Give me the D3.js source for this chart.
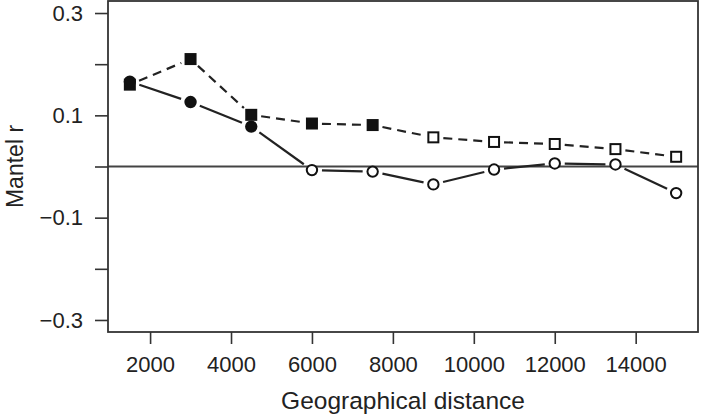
<!DOCTYPE html>
<html>
<head>
<meta charset="utf-8">
<script src="https://cdn.jsdelivr.net/npm/d3@7"></script>
<style>
  body { margin: 0; background: #fff; }
  text { font-family: "Liberation Sans", Arial, sans-serif; fill: #222; }
</style>
</head>
<body>
<div id="chart"></div>
<script>
var distances = [1500, 3000, 4500, 6000, 7500, 9000, 10500, 12000, 13500, 15000];
var circleR  = [0.166, 0.126, 0.078, -0.007, -0.010, -0.035, -0.006, 0.006, 0.004, -0.052];
var circleFilled = [true, true, true, false, false, false, false, false, false, false];
var squareR  = [0.160, 0.210, 0.101, 0.084, 0.081, 0.057, 0.048, 0.044, 0.034, 0.019];
var squareFilled = [true, true, true, true, true, false, false, false, false, false];
var xTicks = [2000, 4000, 6000, 8000, 10000, 12000, 14000];
var yTicks = [0.3, 0.2, 0.1, 0, -0.1, -0.2, -0.3];
var yLabels = [0.3, 0.1, -0.1, -0.3];

var graphD = {
  width: 702,
  height: 416,
  left: 108,
  right: 698,
  top: 1,
  bottom: 332
};

var svg = d3.select("#chart")
            .append("svg")
            .attr("width", graphD.width)
            .attr("height", graphD.height);

var xScale = d3.scaleLinear()
               .domain([960, 15540])
               .range([graphD.left, graphD.right]);

var yScale = d3.scaleLinear()
               .domain([-0.3235, 0.3235])
               .range([graphD.bottom, graphD.top]);

var xAxis = d3.axisBottom(xScale).tickValues(xTicks).tickSize(12).tickPadding(12)
              .tickFormat(d3.format("d"));
var yAxis = d3.axisLeft(yScale).tickValues(yTicks).tickSize(13).tickPadding(12)
              .tickFormat(function(d){ return yLabels.indexOf(d) >= 0 ? d3.format(".1f")(d).replace("-", "\u2212") : ""; });

var gx = svg.append("g")
   .attr("transform", "translate(0," + graphD.bottom + ")")
   .call(xAxis);
var gy = svg.append("g")
   .attr("transform", "translate(" + graphD.left + ",0)")
   .call(yAxis);

[gx, gy].forEach(function(g){
  g.select(".domain").remove();
  g.selectAll(".tick line").attr("stroke", "#333").attr("stroke-width", 1.6);
  g.selectAll(".tick text").style("font-size", "22px").attr("fill", "#222");
});

// zero reference line
svg.append("line")
   .attr("x1", graphD.left).attr("x2", graphD.right)
   .attr("y1", yScale(0)).attr("y2", yScale(0))
   .attr("stroke", "#444").attr("stroke-width", 1.8);

// plot box
svg.append("rect")
   .attr("x", graphD.left).attr("y", graphD.top)
   .attr("width", graphD.right - graphD.left)
   .attr("height", graphD.bottom - graphD.top)
   .attr("fill", "none").attr("stroke", "#333").attr("stroke-width", 1.8);

// lines drawn with gaps around points (like R type = "b")
function gappedSegments(values, gap){
  var segs = [];
  for (var i = 0; i < values.length - 1; i++) {
    var x1 = xScale(distances[i]), y1 = yScale(values[i]);
    var x2 = xScale(distances[i+1]), y2 = yScale(values[i+1]);
    var len = Math.sqrt((x2-x1)*(x2-x1) + (y2-y1)*(y2-y1));
    var ux = (x2-x1)/len, uy = (y2-y1)/len;
    segs.push([x1 + ux*gap, y1 + uy*gap, x2 - ux*gap, y2 - uy*gap]);
  }
  return segs;
}

svg.append("g").selectAll("line")
   .data(gappedSegments(squareR, 10))
   .enter().append("line")
   .attr("x1", function(d){ return d[0]; }).attr("y1", function(d){ return d[1]; })
   .attr("x2", function(d){ return d[2]; }).attr("y2", function(d){ return d[3]; })
   .attr("stroke", "#222").attr("stroke-width", 2.2)
   .attr("stroke-dasharray", "9,6");

svg.append("g").selectAll("line")
   .data(gappedSegments(circleR, 10))
   .enter().append("line")
   .attr("x1", function(d){ return d[0]; }).attr("y1", function(d){ return d[1]; })
   .attr("x2", function(d){ return d[2]; }).attr("y2", function(d){ return d[3]; })
   .attr("stroke", "#222").attr("stroke-width", 2.2);

svg.append("g").selectAll("rect")
   .data(squareR)
   .enter().append("rect")
   .attr("x", function(d,i){ return xScale(distances[i]) - 5; })
   .attr("y", function(d){ return yScale(d) - 5; })
   .attr("width", 10).attr("height", 10)
   .attr("fill", function(d,i){ return squareFilled[i] ? "#111" : "#fff"; })
   .attr("stroke", "#111").attr("stroke-width", 2);

svg.append("g").selectAll("circle")
   .data(circleR)
   .enter().append("circle")
   .attr("cx", function(d,i){ return xScale(distances[i]); })
   .attr("cy", function(d){ return yScale(d); })
   .attr("r", 5.2)
   .attr("fill", function(d,i){ return circleFilled[i] ? "#111" : "#fff"; })
   .attr("stroke", "#111").attr("stroke-width", 2);

svg.append("text")
   .attr("x", (graphD.left + graphD.right) / 2)
   .attr("y", 409)
   .attr("text-anchor", "middle")
   .style("font-size", "24.5px")
   .text("Geographical distance");

svg.append("text")
   .attr("transform", "translate(23," + ((graphD.top + graphD.bottom) / 2) + ") rotate(-90)")
   .attr("text-anchor", "middle")
   .style("font-size", "23px")
   .text("Mantel r");
</script>
</body>
</html>
